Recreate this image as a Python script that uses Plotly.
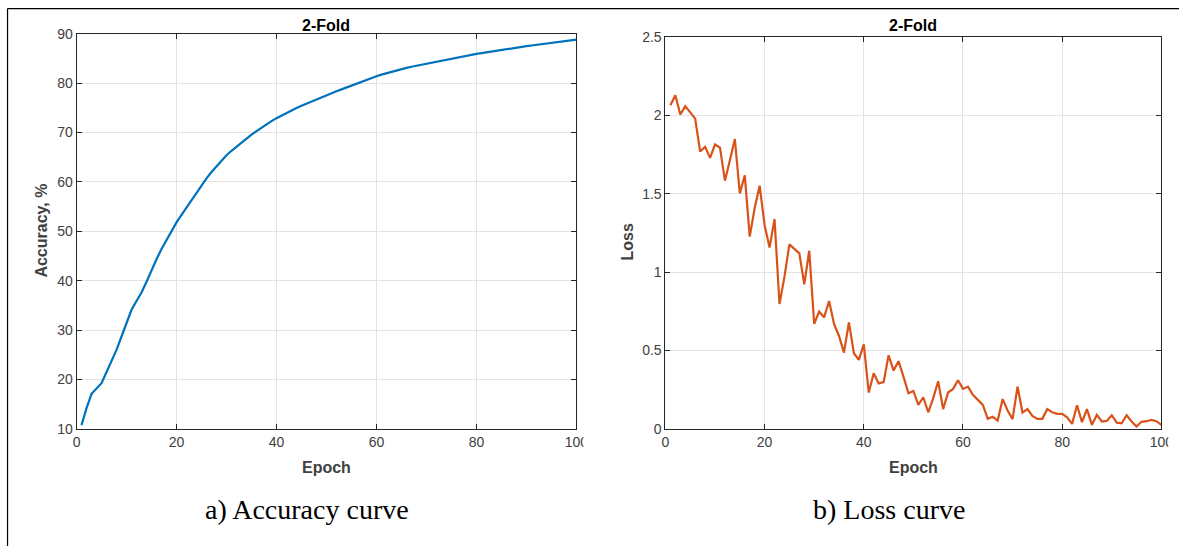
import plotly.graph_objects as go

# Figure size; target positions (in reference-image pixels) are mapped back
# to figure pixels to compensate for the capture's margin and fitting.
W, H = 1191, 554
MARGIN = 8
SX = (W + 2 * MARGIN) / W
SY = (H + 2 * MARGIN) / H
XSHIFT = 4.5

epochs = list(range(1, 101))

accuracy = [
    10.75, 14.2, 17.1, 18.2, 19.25, 21.5, 23.8, 26.0, 28.7, 31.4,
    34.1, 35.9, 37.6, 39.8, 42.2, 44.35, 46.4, 48.3, 50.0, 51.8,
    53.3, 54.8, 56.3, 57.8, 59.3, 60.7, 62.0, 63.2, 64.3, 65.4,
    66.3, 67.15, 67.98, 68.78, 69.55, 70.29, 71.0, 71.66, 72.3, 72.9,
    73.45, 73.98, 74.48, 74.96, 75.42, 75.86, 76.29, 76.71, 77.11, 77.5,
    77.92, 78.33, 78.73, 79.13, 79.52, 79.9, 80.28, 80.66, 81.03, 81.4,
    81.72, 82.02, 82.31, 82.58, 82.84, 83.08, 83.31, 83.52, 83.72, 83.91,
    84.11, 84.31, 84.51, 84.71, 84.91, 85.11, 85.31, 85.51, 85.71, 85.91,
    86.08, 86.25, 86.41, 86.57, 86.73, 86.88, 87.03, 87.18, 87.33, 87.47,
    87.61, 87.75, 87.89, 88.02, 88.15, 88.28, 88.41, 88.54, 88.67, 88.8,
]

loss = [
    2.066, 2.13, 2.007, 2.06, 2.02, 1.98, 1.77, 1.80, 1.73, 1.815,
    1.795, 1.584, 1.715, 1.85, 1.503, 1.618, 1.227, 1.41, 1.552, 1.30,
    1.157, 1.339, 0.797, 0.971, 1.178, 1.146, 1.12, 0.923, 1.137, 0.67,
    0.748, 0.712, 0.816, 0.67, 0.593, 0.487, 0.68, 0.483, 0.44, 0.54,
    0.232, 0.355, 0.29, 0.298, 0.47, 0.372, 0.432, 0.334, 0.228, 0.242,
    0.153, 0.202, 0.106, 0.196, 0.304, 0.126, 0.232, 0.255, 0.31, 0.255,
    0.27, 0.217, 0.185, 0.153, 0.064, 0.077, 0.053, 0.19, 0.117, 0.062,
    0.27, 0.104, 0.126, 0.083, 0.064, 0.064, 0.126, 0.106, 0.096, 0.096,
    0.074, 0.032, 0.151, 0.043, 0.126, 0.026, 0.089, 0.047, 0.051, 0.087,
    0.040, 0.036, 0.087, 0.047, 0.015, 0.045, 0.049, 0.057, 0.049, 0.026,
]

x_ticks = [0, 20, 40, 60, 80, 100]
acc_ticks = [10, 20, 30, 40, 50, 60, 70, 80, 90]
loss_ticks = [0, 0.5, 1, 1.5, 2, 2.5]
loss_tick_text = ["0", "0.5", "1", "1.5", "2", "2.5"]

titles = ["2-Fold", "2-Fold"]
x_title = "Epoch"
y_titles = ["Accuracy, %", "Loss"]
captions = ["a) Accuracy curve", "b) Loss curve"]


def px(x):
    return max(0.0, min(1.0, (x * SX - MARGIN + XSHIFT) / W))


def py(y):
    return max(0.0, min(1.0, 1 - (y * SY - MARGIN) / H))


AX = "#262626"
GRID = "#e3e3e3"
TICKC = "#404040"
FONT = "Liberation Sans, Arial, Helvetica, sans-serif"

fig = go.Figure()
fig.add_trace(go.Scatter(x=epochs, y=accuracy, mode="lines",
                         line=dict(color="#0072BD", width=2.2),
                         xaxis="x", yaxis="y", showlegend=False))
fig.add_trace(go.Scatter(x=epochs, y=loss, mode="lines",
                         line=dict(color="#D95319", width=2.2),
                         xaxis="x2", yaxis="y2", showlegend=False))

common_x = dict(range=[0, 100], tickvals=x_ticks, showgrid=True, gridcolor=GRID,
                gridwidth=1, showline=True, linecolor=AX, linewidth=1, mirror="ticks",
                ticks="inside", ticklen=5, tickcolor=AX, zeroline=False,
                tickfont=dict(family=FONT, size=14, color=TICKC), fixedrange=True)
common_y = dict(showgrid=True, gridcolor=GRID, gridwidth=1, showline=True,
                linecolor=AX, linewidth=1, mirror="ticks", ticks="inside",
                ticklen=5, tickcolor=AX, zeroline=False,
                tickfont=dict(family=FONT, size=14, color=TICKC), fixedrange=True)

fig.update_layout(
    width=W, height=H,
    margin=dict(l=0, r=0, t=0, b=0),
    paper_bgcolor="white", plot_bgcolor="white",
    xaxis=dict(domain=[px(76), px(576)], anchor="y", **common_x),
    yaxis=dict(domain=[py(429), py(33.5)], anchor="x", range=[10, 90],
               tickvals=acc_ticks, **common_y),
    xaxis2=dict(domain=[px(665), px(1161)], anchor="y2", **common_x),
    yaxis2=dict(domain=[py(429), py(37)], anchor="x2", range=[0, 2.5],
                tickvals=loss_ticks, ticktext=loss_tick_text, **common_y),
)

ann = []
for cx, t in zip([326, 913], titles):
    ann.append(dict(x=px(cx), y=py(25), xref="paper", yref="paper", text="<b>%s</b>" % t,
                    showarrow=False, xanchor="center", yanchor="middle",
                    font=dict(family=FONT, size=16, color="#000000")))
for cx in [326, 913]:
    ann.append(dict(x=px(cx), y=py(468), xref="paper", yref="paper", text="<b>%s</b>" % x_title,
                    showarrow=False, xanchor="center", yanchor="middle",
                    font=dict(family=FONT, size=16, color=TICKC)))
for (cx, cy), t in zip([(40, 231), (627, 242)], y_titles):
    ann.append(dict(x=px(cx), y=py(cy), xref="paper", yref="paper", text="<b>%s</b>" % t,
                    showarrow=False, xanchor="center", yanchor="middle", textangle=-90,
                    font=dict(family=FONT, size=16, color=TICKC)))
for cx, t in zip([307, 889], captions):
    ann.append(dict(x=px(cx), y=py(510), xref="paper", yref="paper", text=t,
                    showarrow=False, xanchor="center", yanchor="middle",
                    font=dict(family="Liberation Serif, Times New Roman, serif", size=28,
                              color="#000000")))
fig.update_layout(annotations=ann)

shapes = [
    dict(type="line", xref="paper", yref="paper", x0=px(7), x1=1, y0=0.999, y1=0.999,
         line=dict(color="#000000", width=1.2), layer="above"),
    dict(type="line", xref="paper", yref="paper", x0=px(7), x1=px(7), y0=0.999, y1=0,
         line=dict(color="#000000", width=1.2), layer="above"),
    # clipped "100" tick labels as in the source figure
    dict(type="rect", xref="paper", yref="paper", x0=px(583), x1=px(600), y0=py(456), y1=py(436),
         fillcolor="white", line=dict(width=0), layer="above"),
    dict(type="rect", xref="paper", yref="paper", x0=px(1168), x1=1, y0=py(456), y1=py(436),
         fillcolor="white", line=dict(width=0), layer="above"),
]
fig.update_layout(shapes=shapes)

fig.write_html("out.html")
